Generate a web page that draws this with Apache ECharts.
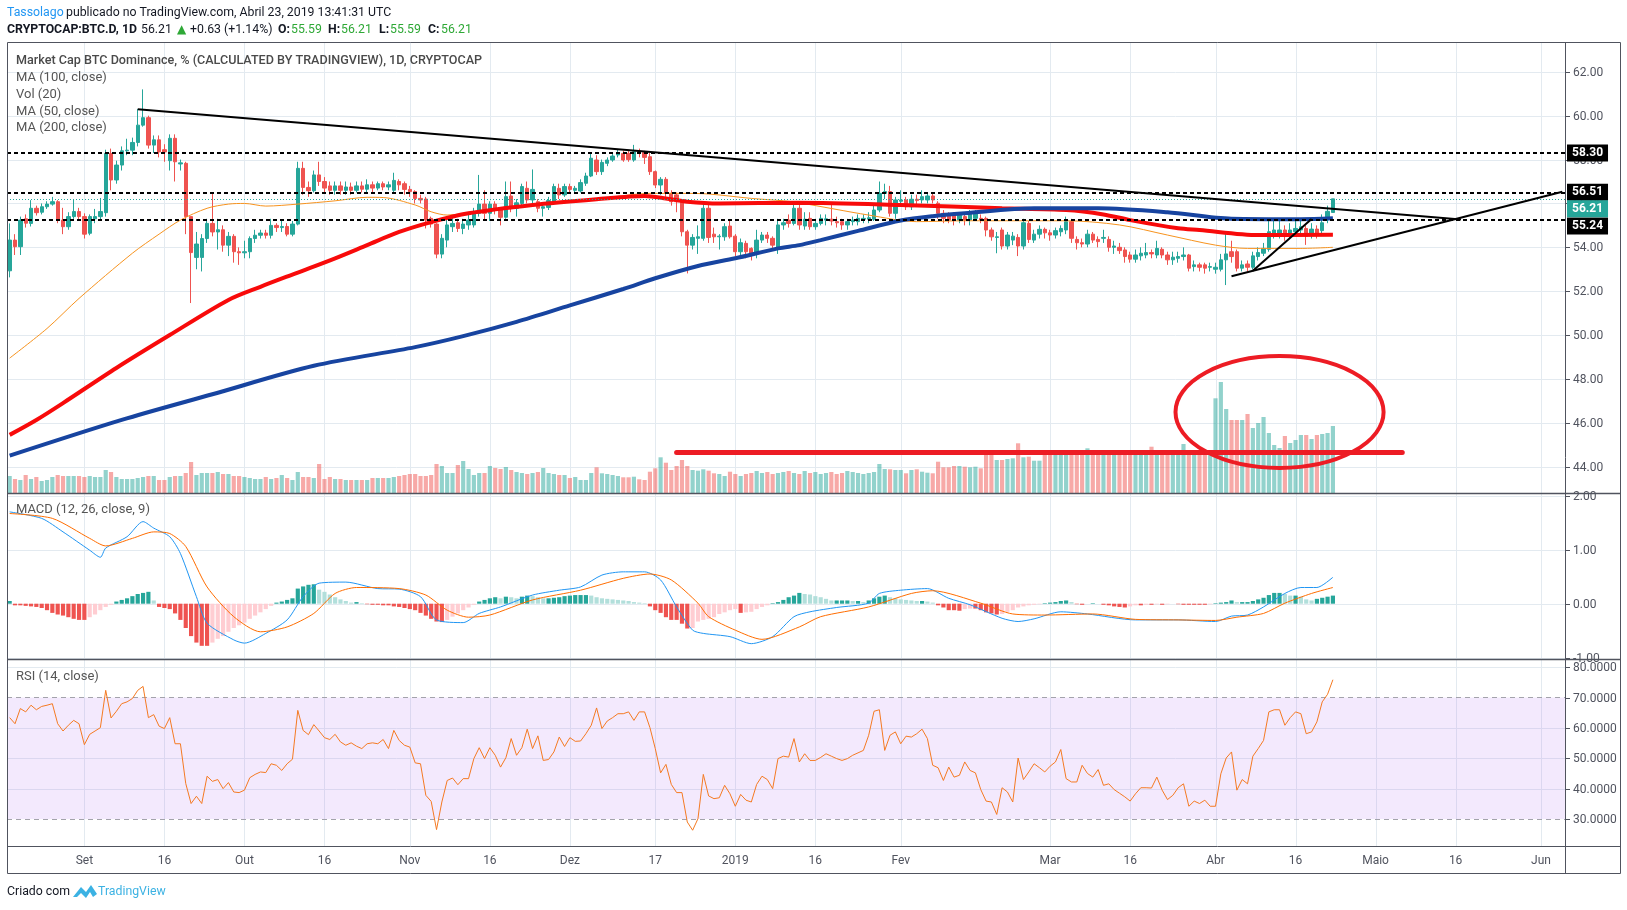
<!DOCTYPE html>
<html><head><meta charset="utf-8">
<script src="https://cdn.jsdelivr.net/npm/echarts@6/dist/echarts.min.js"></script>
<style>html,body{margin:0;padding:0;background:#fff}#c{width:1627px;height:910px}</style>
</head><body><div id="c"></div>
<script>
// ---------- data ----------
const firstDay = [2018, 7, 18];   // 18 Aug 2018 (month 0-based)
const lastAxisDay = [2019, 5, 5]; // 5 Jun 2019

// daily candles: [open, close, low, high]
const candles = [
[52.93,54.33,52.63,55.09],[54.33,54.03,53.65,54.6],[54.03,55.24,53.65,55.4],[55.3,55.1,54.9,55.5],[55.09,55.78,54.95,56.15],
[55.78,55.58,55.45,55.9],[55.6,55.85,55.5,56.0],[55.85,55.97,55.75,56.1],[55.97,56.08,55.9,56.3],[56.08,55.24,55.1,56.15],
[55.24,54.94,54.6,55.8],[54.94,55.4,54.8,55.6],[55.4,55.63,55.3,56.2],[55.63,55.4,55.2,55.8],[55.4,54.6,54.4,55.55],
[54.64,55.4,54.55,55.5],[55.3,55.4,55.1,55.75],[55.4,55.63,55.2,56.25],[55.58,58.28,55.4,58.45],[58.28,57.07,56.6,58.5],
[57.07,57.75,56.9,57.95],[57.75,58.4,57.5,58.6],[58.4,58.43,58.2,58.95],[58.43,58.78,58.2,59.0],[58.78,59.57,58.6,60.3],
[59.57,59.91,59.5,61.2],[59.91,58.66,58.5,60.0],[58.66,58.9,58.3,59.1],[58.9,58.35,58.1,59.1],[58.45,58.35,57.9,58.7],
[57.95,58.97,57.5,59.15],[58.97,57.9,57.0,59.15],[57.8,57.85,57.5,58.0],[57.83,55.4,54.6,57.9],[55.4,53.76,51.46,55.4],
[53.54,54.15,53.0,54.7],[53.54,54.4,52.9,54.6],[54.4,55.09,54.2,55.3],[55.09,54.7,54.5,56.47],[54.7,54.8,53.9,55.3],
[54.8,54.1,53.8,55.0],[54.1,54.5,53.6,54.7],[54.5,53.8,53.3,54.6],[53.8,53.75,53.2,54.0],[53.75,53.8,53.5,54.3],
[53.8,54.4,53.5,54.5],[54.4,54.55,54.2,54.8],[54.55,54.65,54.4,54.8],[54.65,54.55,54.4,54.8],[54.55,55.0,54.4,55.3],
[55.0,54.9,54.7,55.1],[54.9,54.95,54.7,55.2],[54.95,54.6,54.5,55.1],[54.6,55.06,54.5,55.2],[55.06,57.6,55.0,57.9],
[57.6,56.73,56.4,57.9],[56.73,56.58,56.3,57.0],[56.58,57.3,56.5,57.5],[57.3,57.0,56.8,57.9],[57.0,56.7,56.5,57.2],
[56.8,56.6,56.4,57.0],[56.6,56.8,56.4,57.0],[56.8,56.6,56.4,57.0],[56.6,56.75,56.4,57.0],[56.75,56.6,56.4,56.95],
[56.6,56.8,56.5,57.0],[56.8,56.65,56.5,57.0],[56.65,56.85,56.5,57.1],[56.85,56.7,56.5,57.0],[56.7,56.9,56.6,57.0],
[56.9,56.75,56.6,57.0],[56.75,56.85,56.6,57.0],[56.6,57.05,56.5,57.4],[57.0,56.85,56.6,57.1],[56.9,56.64,56.4,57.0],
[56.64,56.54,56.3,56.8],[56.54,56.23,56.0,56.6],[56.23,56.16,56.0,56.4],[56.2,55.24,54.86,56.3],[55.32,55.06,54.9,55.4],
[55.06,53.69,53.5,55.1],[53.69,54.41,53.5,54.6],[54.33,55.02,54.0,55.3],[54.94,55.09,54.7,55.4],[55.12,54.86,54.7,55.3],
[54.86,55.06,54.6,55.3],[55.02,55.24,54.8,55.6],[55.02,55.58,54.9,55.8],[55.55,55.97,55.4,57.3],[55.97,55.55,55.2,56.6],
[55.55,55.97,55.2,56.1],[55.97,55.7,55.5,56.1],[55.7,55.37,55.0,55.8],[55.37,56.31,55.3,57.0],[56.34,55.78,55.6,57.0],
[55.78,56.03,55.4,56.2],[56.0,56.77,55.8,56.9],[56.69,56.16,56.0,57.0],[56.16,56.64,56.0,57.55],[56.08,55.78,55.6,56.2],
[55.78,55.85,55.4,56.0],[55.82,56.13,55.7,56.3],[56.08,56.77,56.0,56.9],[56.69,56.39,56.2,56.9],[56.39,56.77,56.3,56.9],
[56.77,56.64,56.5,56.9],[56.6,56.69,56.5,56.8],[56.57,56.95,56.5,57.1],[56.92,57.25,56.8,57.4],[57.25,58.06,57.2,58.3],
[57.98,57.45,57.3,58.2],[57.45,57.87,57.3,58.0],[57.83,57.98,57.7,58.1],[57.98,58.16,57.9,58.3],[58.21,58.32,58.1,58.45],
[58.28,57.98,57.9,58.4],[58.28,58.0,57.9,58.4],[57.98,58.36,57.9,58.67],[58.36,58.3,58.1,58.5],[58.32,58.1,57.8,58.4],
[58.13,57.45,57.3,58.3],[57.45,56.84,56.7,57.5],[56.84,57.1,56.4,57.2],[57.1,56.46,56.3,57.2],[56.46,56.08,55.9,56.6],
[56.39,56.08,55.6,56.5],[56.08,54.71,54.5,56.2],[54.71,54.1,52.81,54.8],[54.1,54.45,53.9,54.6],[54.41,54.48,53.7,55.0],
[54.41,55.78,54.3,56.0],[55.78,54.45,54.2,56.0],[54.6,54.48,54.2,54.9],[54.48,54.51,53.9,54.6],[54.48,54.94,54.3,55.1],
[54.97,54.48,54.4,55.2],[54.51,53.8,53.6,54.6],[53.8,54.21,53.6,54.4],[54.18,53.8,53.5,54.3],[53.95,53.72,53.4,54.0],
[53.72,54.33,53.5,54.8],[54.33,54.56,54.2,54.7],[54.56,54.41,54.2,54.7],[54.41,54.1,53.9,54.5],[53.95,55.02,53.7,55.3],
[55.02,55.12,54.8,55.3],[55.24,55.09,54.9,55.5],[55.09,55.78,55.0,56.0],[55.78,55.02,54.8,56.0],[54.97,55.28,54.8,55.6],
[55.32,54.94,54.8,55.6],[54.94,55.09,54.8,55.3],[55.09,55.32,55.0,55.5],[55.24,55.3,55.0,55.5],[55.28,55.2,55.0,56.0],
[55.17,55.12,54.9,55.4],[55.17,55.02,54.8,55.3],[55.02,55.17,54.8,55.3],[55.17,55.24,55.0,55.4],[55.17,55.32,55.0,55.5],
[55.28,55.32,55.1,55.5],[55.28,55.35,55.1,55.6],[55.28,55.7,55.2,55.9],[55.7,56.46,55.6,57.0],[56.46,56.54,56.2,56.9],
[56.54,55.55,55.4,56.8],[55.55,56.16,55.3,56.3],[56.1,56.16,55.9,56.6],[56.16,55.85,55.7,56.3],[55.85,56.19,55.7,56.4],
[56.19,56.13,55.9,56.4],[56.16,56.31,56.0,56.6],[56.16,56.34,56.0,56.5],[56.34,56.16,56.0,56.5],[56.01,55.55,55.3,56.1],
[55.55,55.32,55.1,55.7],[55.47,55.24,55.1,55.6],[55.47,55.24,55.0,55.6],[55.24,55.47,55.1,55.6],[55.4,55.24,55.0,55.5],
[55.24,55.55,55.0,55.7],[55.32,55.58,55.2,55.7],[55.32,55.24,55.1,55.5],[55.32,54.79,54.5,55.4],[54.79,54.48,54.3,54.9],
[54.45,54.48,53.73,54.7],[54.79,54.06,53.9,54.9],[54.06,54.56,53.9,54.7],[54.33,54.51,54.1,54.7],[54.45,54.06,53.6,54.6],
[54.06,55.12,53.9,55.3],[55.09,54.36,54.2,55.2],[54.33,54.6,54.2,54.8],[54.6,54.82,54.4,55.0],[54.82,54.66,54.4,54.9],
[54.66,54.56,54.3,54.8],[54.56,54.76,54.4,54.9],[54.71,54.86,54.5,55.0],[54.79,55.17,54.6,55.4],[55.17,54.41,54.2,55.3],
[54.36,54.21,53.9,54.5],[54.21,54.15,54.0,54.4],[54.15,54.6,54.0,54.8],[54.6,54.33,54.2,54.7],[54.36,54.26,54.0,54.5],
[54.41,54.45,54.2,54.8],[54.36,54.0,53.8,54.5],[54.0,54.06,53.7,54.3],[54.0,53.85,53.7,54.2],[53.88,53.58,53.3,54.0],
[53.65,53.46,53.3,53.8],[53.46,53.65,53.3,53.9],[53.61,53.73,53.4,54.0],[53.65,53.76,53.5,54.2],[53.76,53.7,53.5,53.9],
[53.65,53.95,53.5,54.3],[53.91,53.65,53.5,54.0],[53.65,53.43,53.2,53.8],[53.43,53.55,53.2,53.8],[53.5,53.58,53.3,53.8],
[53.58,53.65,53.4,54.0],[53.65,53.05,52.9,53.7],[53.12,53.2,52.9,53.4],[53.2,53.09,52.9,53.3],[53.2,53.05,52.8,53.3],
[53.09,53.12,52.9,53.3],[53.0,53.09,52.8,53.3],[53.0,53.43,52.9,53.7],[53.43,53.7,52.28,54.71],[53.8,53.58,53.3,54.3],
[53.8,53.05,52.9,53.9],[53.05,53.2,52.9,53.4],[53.24,53.09,52.9,53.4],[53.09,53.61,53.0,53.8],[53.58,53.76,53.4,54.0],
[53.73,53.95,53.6,54.2],[53.91,54.71,53.8,55.2],[54.6,54.79,54.4,55.2],[54.64,54.79,54.4,55.2],[54.79,54.49,54.3,55.0],
[54.64,54.79,54.4,55.1],[54.71,54.86,54.5,55.2],[54.79,54.94,54.6,55.2],[54.86,54.51,54.11,55.0],[54.64,54.83,54.4,55.1],
[54.83,54.56,54.4,55.0],[54.76,55.12,54.6,55.5],[55.26,55.64,55.1,55.9],[55.59,56.21,55.59,56.21]
];

// relative volume per day
const volumes = [
17,14,13,18,14,16,12,13,16,18,17,17,17,17,16,17,16,16,
23,21,16,14,14,14,15,16,17,17,13,13,16,17,17,
20,31,18,20,20,20,21,19,19,17,17,16,15,
14,14,16,14,15,18,15,13,21,16,16,15,29,14,16,
14,14,13,13,13,13,13,15,15,15,15,16,17,18,19,19,17,17,18,
29,27,20,20,28,32,24,18,20,20,27,25,24,26,23,21,20,19,20,21,
25,20,19,18,18,15,16,13,13,20,
25.7,19.7,19,18,17,15.7,15.7,16.3,13.7,13,21.3,24.7,35.7,30.3,23,27,33,27,23,22.3,23.7,22.3,19.7,19,17,21.3,19,17,19,
20,22,20,21,19,20,21,22,20,19,22,20,21,19,20,21,19,20,22,21,20,19,20,21,
29,24,23.7,23,23,19.7,23,23.7,21.3,20.3,19.7,31.3,25.7,25.7,27,27,26.3,25.7,26.3,24.7,39.7,39.7,33,33,34,34.7,49.7,35.7,36.3,32.3,32.3,38,39.7,
38,40,40,41,42,40,44.7,40,38,41,40,42,40,38,41,40,39,41,46.3,40,41,39,40,42,49,41,40,42,43,41,
94.7,111,84,73,73,73,79,65,70,76,60,48,45,57,50,53,58,58,54,58,59,60,67
];

// MACD histogram per day
const macdHist = [
0.05,
-0.03,-0.03,-0.04,-0.05,-0.06,
-0.08,-0.12,-0.17,-0.2,
-0.22,-0.25,-0.28,-0.3,-0.3,
-0.25,-0.2,-0.12,-0.06,-0.02,
0.04,0.07,0.1,0.14,0.18,0.2,0.22,
0.06,
-0.06,-0.08,-0.1,-0.18,
-0.3,-0.45,-0.6,-0.72,-0.78,-0.78,
-0.72,-0.65,-0.6,-0.52,-0.45,-0.4,-0.35,-0.28,-0.22,-0.16,-0.1,-0.04,
0.02,0.04,0.07,0.1,
0.28,0.32,0.35,0.36,
0.26,0.22,0.17,0.12,0.08,0.05,0.02,
0.03,0.01,-0.01,-0.02,-0.02,-0.03,-0.03,
-0.05,-0.06,-0.08,-0.1,-0.12,
-0.17,-0.22,-0.28,-0.33,-0.34,
-0.3,-0.24,-0.18,-0.12,-0.07,-0.02,
0.04,0.07,0.1,0.12,0.1,0.13,0.12,0.1,0.13,0.15,0.14,0.12,0.1,
0.1,0.11,0.12,0.14,0.15,0.16,0.16,0.16,0.15,0.12,
0.1,0.09,0.08,0.07,0.06,0.05,0.03,0.02,0.01,
-0.05,-0.12,-0.17,-0.25,-0.3,-0.3,-0.37,-0.46,
-0.45,-0.33,-0.3,-0.28,-0.25,-0.19,-0.16,-0.12,-0.1,
-0.17,-0.16,-0.15,-0.1,-0.06,-0.03,
0.01,0.03,0.07,0.12,0.15,0.2,
0.18,0.17,0.14,0.12,0.09,0.06,0.06,0.06,0.06,0.05,0.05,0.03,0.06,
0.1,0.13,0.15,
0.12,0.1,0.08,0.07,0.06,0.05,0.05,0.04,0.02,
-0.03,-0.07,-0.12,-0.12,-0.13,-0.1,-0.09,-0.09,-0.12,
-0.16,-0.18,-0.2,-0.19,-0.15,-0.12,
-0.07,-0.05,-0.03,-0.02,-0.01,
0.01,0.02,0.03,0.05,0.06,0.03,
-0.01,-0.02,0.0,0.01,0.0,
-0.02,-0.03,-0.05,-0.06,-0.07,-0.05,
-0.03,-0.03,-0.02,-0.02,-0.01,
-0.02,-0.01,0.0,-0.01,-0.02,-0.02,-0.02,-0.02,-0.02,-0.01,
0.01,0.02,0.03,0.06,0.03,0.03,0.03,0.05,0.08,0.11,0.16,0.2,0.2,0.18,0.15,0.15,0.13,0.08,0.06,0.09,0.11,0.13,0.15
];

// MACD and signal lines, read at [day index, value]
const macdLine = [[0,1.70],[6,1.58],[10,1.33],[15,0.99],[17,0.86],[18,1.03],[22,1.24],[25,1.52],[27,1.40],[30,1.24],[32,0.93],[35,0.13],[37,-0.36],[42,-0.67],[44,-0.73],[48,-0.55],[52,-0.30],[55,0.13],[58,0.38],[63,0.40],[69,0.28],[73,0.27],[77,0.13],[80,-0.30],[85,-0.35],[88,-0.18],[92,-0.06],[98,0.16],[103,0.25],[107,0.31],[111,0.53],[115,0.59],[119,0.59],[122,0.44],[125,-0.06],[128,-0.49],[130,-0.55],[135,-0.61],[139,-0.74],[143,-0.61],[147,-0.24],[150,-0.15],[155,-0.07],[161,0.01],[163,0.19],[167,0.25],[172,0.28],[176,0.10],[180,-0.02],[186,-0.27],[189,-0.33],[192,-0.28],[197,-0.15],[202,-0.19],[211,-0.30],[219,-0.30],[226,-0.33],[229,-0.23],[232,-0.21],[235,-0.06],[239,0.19],[242,0.30],[245,0.30],[248,0.49]];
const signalLine = [[0,1.67],[8,1.58],[15,1.21],[18,1.07],[23,1.21],[27,1.33],[30,1.30],[33,1.06],[37,0.31],[42,-0.24],[47,-0.52],[52,-0.43],[57,-0.18],[61,0.19],[65,0.30],[73,0.28],[78,0.16],[82,-0.12],[86,-0.25],[90,-0.21],[98,0.07],[107,0.25],[115,0.47],[120,0.55],[124,0.44],[129,0.01],[131,-0.24],[136,-0.49],[141,-0.66],[148,-0.43],[152,-0.24],[161,-0.06],[169,0.19],[173,0.24],[182,0.01],[188,-0.19],[194,-0.21],[203,-0.19],[211,-0.29],[219,-0.30],[226,-0.31],[230,-0.25],[235,-0.18],[239,0.01],[244,0.19],[248,0.30]];

// RSI per day
const rsi = [
63.4,61.4,66.4,65.3,67.5,66.0,67.1,67.5,68.0,61.4,
59.0,60.9,62.5,61.4,54.5,57.9,59.0,60.1,72.4,63.3,
65.5,68.0,68.6,69.7,72.4,73.7,63.4,64.4,60.6,59.8,
63.4,54.8,54.8,41.7,35.1,37.5,35.1,44.1,42.4,43.0,
40.0,42.0,38.9,38.7,39.5,43.6,44.7,45.5,45.3,48.2,
47.7,46.0,48.2,49.7,65.8,59.2,57.8,61.1,59.0,56.8,
56.2,57.9,55.4,54.3,55.1,54.0,53.2,54.8,55.1,54.8,
56.2,53.2,59.2,55.9,54.3,53.7,48.5,48.2,37.8,35.8,
26.5,35.6,42.7,43.5,41.3,43.3,43.3,49.9,53.5,49.9,
53.5,51.0,47.1,50.2,56.5,51.0,53.5,59.6,53.2,57.4,
49.3,49.6,52.1,57.0,53.9,56.8,55.6,55.7,58.1,60.9,
66.6,59.8,62.3,63.4,64.7,64.7,65.3,62.5,65.3,65.3,
60.1,53.2,45.2,48.0,41.4,38.7,38.7,29.0,26.3,30.1,
44.7,37.6,36.7,37.0,41.1,38.3,34.2,38.1,36.2,35.6,
41.4,44.1,43.0,40.0,49.9,50.7,50.4,56.5,48.8,51.5,
49.3,49.3,50.3,51.5,50.7,49.9,49.3,49.9,51.0,51.8,52.6,
57.6,65.5,66.0,52.6,57.6,58.7,54.8,57.3,57.0,58.1,
59.6,56.5,47.7,46.9,42.7,47.1,43.8,44.4,48.8,46.0,
45.2,39.7,35.9,35.6,31.5,40.3,38.9,35.6,50.1,43.0,
45.5,48.2,46.9,45.5,47.4,48.8,52.9,43.3,42.2,42.2,
47.7,45.0,43.8,46.3,41.1,41.6,39.7,38.5,37.3,35.9,38.3,
40.3,40.3,40.2,43.8,39.5,36.4,37.8,40.3,41.6,34.2,
35.9,35.1,36.2,34.2,34.2,44.9,50.1,52.1,39.5,43.0,
41.6,50.7,53.2,55.9,65.3,66.0,66.0,60.9,63.4,65.3,
64.7,58.1,58.7,62.0,68.6,71.1,75.9
];

// moving averages read at [day index, value]
const maOrange = [[0,48.95],[7,50.3],[13,51.67],[23,53.73],[28,54.6],[32,55.24],[37,55.78],[41,55.97],[44,56.0],[48,55.88],[54,55.97],[61,56.12],[67,56.28],[70,56.27],[76,55.93],[79,55.62],[82,55.47],[89,55.7],[104,56.08],[111,56.23],[120,56.46],[126,56.46],[131,56.43],[139,56.23],[145,56.12],[148,56.03],[161,55.47],[170,55.17],[179,55.21],[198,55.21],[208,55.02],[217,54.56],[226,54.1],[232,53.95],[242,53.95],[248,54.0]];
const maRed = [[0,45.45],[5,46.13],[10,46.9],[20,48.5],[30,50.0],[41,51.6],[47,52.2],[54,52.85],[61,53.5],[67,54.1],[73,54.7],[79,55.15],[86,55.55],[98,55.93],[110,56.19],[119,56.34],[123,56.23],[127,56.08],[133,56.0],[148,56.03],[167,55.93],[186,55.78],[198,55.70],[205,55.5],[210,55.24],[219,54.87],[223,54.79],[234,54.56],[248,54.57]];
const maBlue = [[0,44.5],[21,46.13],[38,47.3],[57,48.6],[76,49.45],[85,49.95],[95,50.6],[105,51.35],[115,52.1],[121,52.59],[129,53.15],[136,53.5],[144,53.95],[148,54.1],[152,54.33],[159,54.75],[167,55.22],[173,55.42],[179,55.55],[192,55.78],[204,55.78],[217,55.6],[229,55.3],[242,55.28],[248,55.32]];

// axis ticks
const dateTicks = [[14,'Set'],[29,'16'],[44,'Out'],[59,'16'],[75,'Nov'],[90,'16'],[105,'Dez'],[121,'17'],[136,'2019'],[151,'16'],[167,'Fev'],[195,'Mar'],[210,'16'],[226,'Abr'],[241,'16'],[256,'Maio'],[271,'16'],[287,'Jun']];
const priceTicks = [44,46,48,50,52,54,56,58,60,62];
const macdTicks = [-1,0,1,2];
const rsiTicks = [30,40,50,60,70,80];

// drawn annotations (data coordinates: [day index, price])
const levels = [58.30, 56.51, 55.24];
const lastPrice = 56.21;
const trendLines = [[[24,60.29],[272,55.27]], [[229,52.68],[291,56.53]], [[233,52.93],[244,55.29]]];
const redBaseline = [[125,44.68],[261,44.68]];
const circleMark = {center:[237.5,46.49], rxDays:19.5, ryValue:2.55};

// ---------- build ----------
const dates = [];
(function(){ const d = new Date(Date.UTC(firstDay[0],firstDay[1],firstDay[2])); const end = Date.UTC(lastAxisDay[0],lastAxisDay[1],lastAxisDay[2]);
  while (d.getTime() <= end) { dates.push(d.toISOString().slice(0,10)); d.setUTCDate(d.getUTCDate()+1); } })();

const UP = '#26a69a', DOWN = '#ef5350';
const FONT = 'Roboto, "Liberation Sans", sans-serif';
const tickMap = {}; dateTicks.forEach(t => tickMap[t[0]] = t[1]);

const volData = volumes.map((v,i) => ({value:v, itemStyle:{color: candles[i][1] >= candles[i][0] ? 'rgba(38,166,154,0.5)' : 'rgba(239,83,80,0.5)'}}));
const histData = macdHist.map((v,i) => {
  const p = i > 0 ? macdHist[i-1] : 0; let col;
  if (v >= 0) col = v >= p ? '#26a69a' : '#b2dfdb'; else col = v <= p ? '#ef5350' : '#ffcdd2';
  return {value:v, itemStyle:{color:col}};
});

const panes = [{top:42, h:451}, {top:493, h:166}, {top:660, h:186}];
const xAx = (gi, extra) => Object.assign({type:'category', gridIndex:gi, data:dates, boundaryGap:true,
  axisLine:{show:false}, axisTick:{show:false}, splitLine:{show:false}, axisLabel:{show:false}}, extra || {});
const yAx = (gi, min, max, extra) => Object.assign({type:'value', gridIndex:gi, position:'right', min, max,
  axisLine:{show:false}, axisTick:{show:false}, splitLine:{show:false}, axisLabel:{show:false}}, extra || {});

const levelLabel = (v, bg, off) => ({show:true, position:'end', distance:2, backgroundColor:bg, color:'#fff', fontWeight:'bold',
  fontFamily:FONT, fontSize:12, padding:[3,5,2,5], offset:off, formatter:() => v.toFixed(2)});

const option = {
  animation:false,
  backgroundColor:'#fff',
  grid: panes.map(p => ({left:7, top:p.top, width:1558, height:p.h})),
  xAxis: [xAx(0), xAx(1), xAx(2, {axisLabel:{show:true, interval:(i) => tickMap[i] !== undefined,
      formatter:(v,i) => tickMap[i] || '', color:'#50535e', fontSize:12, fontFamily:FONT, margin:9, hideOverlap:false}})],
  yAxis: [yAx(0, 42.80, 63.36), yAx(0, 0, 451, {show:false}), yAx(1, -1.024, 2.05), yAx(2, 21.1, 82.4)],
  series: [
    {type:'bar', name:'Vol', xAxisIndex:0, yAxisIndex:1, data:volData, barWidth:'78%', z:1, silent:true},
    {type:'candlestick', name:'BTC.D', xAxisIndex:0, yAxisIndex:0, data:candles, barWidth:'72%', z:3,
      itemStyle:{color:UP, color0:DOWN, borderColor:UP, borderColor0:DOWN, borderWidth:1},
      markLine:{silent:true, symbol:['none','none'], z:6,
        data: levels.map((v,k) => ({yAxis:v, lineStyle:{color:'#000', width:2, type:[4,3]},
              label: levelLabel(v, '#000', [0, k === 2 ? 6 : 0])})).concat([
              {yAxis:lastPrice, lineStyle:{color:UP, width:1, type:[1,2]}, label: levelLabel(lastPrice, UP, [0,10])}])}},
    {type:'line', name:'MA (100, close)', xAxisIndex:0, yAxisIndex:0, data:maOrange, smooth:0.3, showSymbol:false, z:4,
      lineStyle:{color:'#f7931e', width:1}},
    {type:'line', name:'MA (50, close)', xAxisIndex:0, yAxisIndex:0, data:maRed, smooth:0.3, showSymbol:false, z:4,
      lineStyle:{color:'#f80a0a', width:4}},
    {type:'line', name:'MA (200, close)', xAxisIndex:0, yAxisIndex:0, data:maBlue, smooth:0.3, showSymbol:false, z:4,
      lineStyle:{color:'#1744a0', width:4}},
    {type:'line', name:'drawings', xAxisIndex:0, yAxisIndex:0, data:[], z:7,
      markLine:{silent:true, symbol:['none','none'], z:7, label:{show:false},
        lineStyle:{color:'#000', width:2, type:'solid'},
        data: trendLines.map(s => [{coord:s[0]}, {coord:s[1]}]).concat([
          [{coord:redBaseline[0], lineStyle:{color:'#ed1c24', width:5, type:'solid', cap:'round'}}, {coord:redBaseline[1]}]])}},
    {type:'custom', name:'circle', xAxisIndex:0, yAxisIndex:0, z:8, silent:true, data:[circleMark.center],
      renderItem:(params, api) => {
        const c = api.coord([api.value(0), api.value(1)]);
        const rx = circleMark.rxDays * api.size([1,0])[0];
        const ry = api.size([0, circleMark.ryValue])[1];
        return {type:'path', shape:{pathData:'M0,50A50,50,0,1,0,100,50A50,50,0,1,0,0,50Z', x:c[0]-rx, y:c[1]-ry, width:2*rx, height:2*ry, layout:'cover'},
          style:{fill:'none', stroke:'#ed1c24', lineWidth:4}};
      }},
    {type:'bar', name:'Histogram', xAxisIndex:1, yAxisIndex:2, data:histData, barWidth:'78%', z:2, silent:true},
    {type:'line', name:'MACD', xAxisIndex:1, yAxisIndex:2, data:macdLine, smooth:0.25, showSymbol:false, z:3,
      lineStyle:{color:'#2196f3', width:1}},
    {type:'line', name:'Signal', xAxisIndex:1, yAxisIndex:2, data:signalLine, smooth:0.25, showSymbol:false, z:3,
      lineStyle:{color:'#ff6d00', width:1}},
    {type:'line', name:'RSI', xAxisIndex:2, yAxisIndex:3, data:rsi, showSymbol:false, z:3,
      lineStyle:{color:'#f57a22', width:1},
      markArea:{silent:true, z:1, itemStyle:{color:'rgba(170,100,240,0.14)'}, data:[[{yAxis:30},{yAxis:70}]]},
      markLine:{silent:true, symbol:['none','none'], z:2, label:{show:false},
        lineStyle:{color:'#a3a3ab', width:1, type:[5,4]}, data:[{yAxis:70},{yAxis:30}]}}
  ]
};

const chart = echarts.init(document.getElementById('c'));
chart.setOption(option);

// ---------- grid lines, axis labels, frame and texts ----------
const g = [];
const L = 7, R = 1565, FR = 1621, FB = 873;
function line(x1,y1,x2,y2,stroke,w,z,dash){ g.push({type:'line', z, silent:true, shape:{x1,y1,x2,y2}, style:{stroke, lineWidth:w, lineDash:dash||null}}); }
function text(x,y,t,fill,size,weight,z,fam){ g.push({type:'text', z, silent:true, x, y, style:{text:t, fill, fontSize:size, fontFamily:fam||FONT, fontWeight:weight||'normal', verticalAlign:'middle', align:'left'}}); }

panes.forEach((p,gi) => {
  dateTicks.forEach(t => { const x = Math.round(chart.convertToPixel({xAxisIndex:gi}, t[0])) + 0.5; line(x, p.top, x, p.top+p.h, '#e3eaf0', 1, 0); });
});
priceTicks.forEach(v => { const y = Math.round(chart.convertToPixel({yAxisIndex:0}, v)) + 0.5; line(L, y, R, y, '#e3eaf0', 1, 0); line(R, y, R+5, y, '#50535e', 1, 1); text(1573, y, v.toFixed(2), '#50535e', 12, 'normal', 1); });
macdTicks.forEach(v => { const y = Math.round(chart.convertToPixel({yAxisIndex:2}, v)) + 0.5; line(L, y, R, y, '#e3eaf0', 1, 0); line(R, y, R+5, y, '#50535e', 1, 1); text(1573, y, v.toFixed(2), '#50535e', 12, 'normal', 1); });
rsiTicks.forEach(v => { const y = Math.round(chart.convertToPixel({yAxisIndex:3}, v)) + 0.5; if (v !== 70 && v !== 30) line(L, y, R, y, '#e3eaf0', 1, 0); line(R, y, R+5, y, '#50535e', 1, 1); text(1573, y, v.toFixed(4), '#50535e', 12, 'normal', 1); });

// frame and pane separators
g.push({type:'rect', z:50, silent:true, shape:{x:L+0.5, y:42.5, width:FR-L-1, height:FB-42}, style:{fill:'none', stroke:'#50535e', lineWidth:1}});
line(R+0.5, 42, R+0.5, FB, '#50535e', 1, 50);
line(L, 493.5, FR, 493.5, '#50535e', 1.5, 50);
line(L, 659.5, FR, 659.5, '#50535e', 1.5, 50);
line(L, 846.5, FR, 846.5, '#50535e', 1, 50);

// header line 1
const HS = 12.3;
text(7, 13, 'Tassolago', '#2196f3', HS, 'normal', 60);
text(66, 13, 'publicado no TradingView.com, Abril 23, 2019 13:41:31 UTC', '#131722', HS, 'normal', 60);
// header line 2
const GREEN = '#2ea836';
text(7, 30, 'CRYPTOCAP:BTC.D, 1D', '#131722', HS, 'bold', 60);
text(141, 30, '56.21', '#131722', HS, 'normal', 60);
text(177, 30, '▲', GREEN, 12, 'normal', 60, 'DejaVu Sans');
text(190, 30, '+0.63 (+1.14%)', '#131722', HS, 'normal', 60);
text(278, 30, 'O:', '#131722', HS, 'bold', 60);
text(291, 30, '55.59', GREEN, HS, 'normal', 60);
text(328, 30, 'H:', '#131722', HS, 'bold', 60);
text(341, 30, '56.21', GREEN, HS, 'normal', 60);
text(379, 30, 'L:', '#131722', HS, 'bold', 60);
text(390, 30, '55.59', GREEN, HS, 'normal', 60);
text(428, 30, 'C:', '#131722', HS, 'bold', 60);
text(441, 30, '56.21', GREEN, HS, 'normal', 60);
// pane titles and legend
text(16, 61, 'Market Cap BTC Dominance, % (CALCULATED BY TRADINGVIEW), 1D, CRYPTOCAP', '#4a4a4a', 12.6, 500, 60);
text(16, 78, 'MA (100, close)', '#555', 13, 'normal', 60);
text(16, 95, 'Vol (20)', '#555', 13, 'normal', 60);
text(16, 112, 'MA (50, close)', '#555', 13, 'normal', 60);
text(16, 128, 'MA (200, close)', '#555', 13, 'normal', 60);
text(16, 510, 'MACD (12, 26, close, 9)', '#555', 13, 'normal', 60);
text(16, 677, 'RSI (14, close)', '#555', 13, 'normal', 60);
// footer
text(7, 892, 'Criado com', '#131722', HS, 'normal', 60);
g.push({type:'polygon', z:60, silent:true, shape:{points:[[73,897],[81,887],[86,892],[91,885],[97,894],[93,897],[90,892],[86,898],[81,893],[77,897]]}, style:{fill:'#3cb2e3'}});
text(98, 892, 'TradingView', '#3cb2e3', HS, 'normal', 60);

chart.setOption({graphic:{elements:g}});
</script>
</body></html>
